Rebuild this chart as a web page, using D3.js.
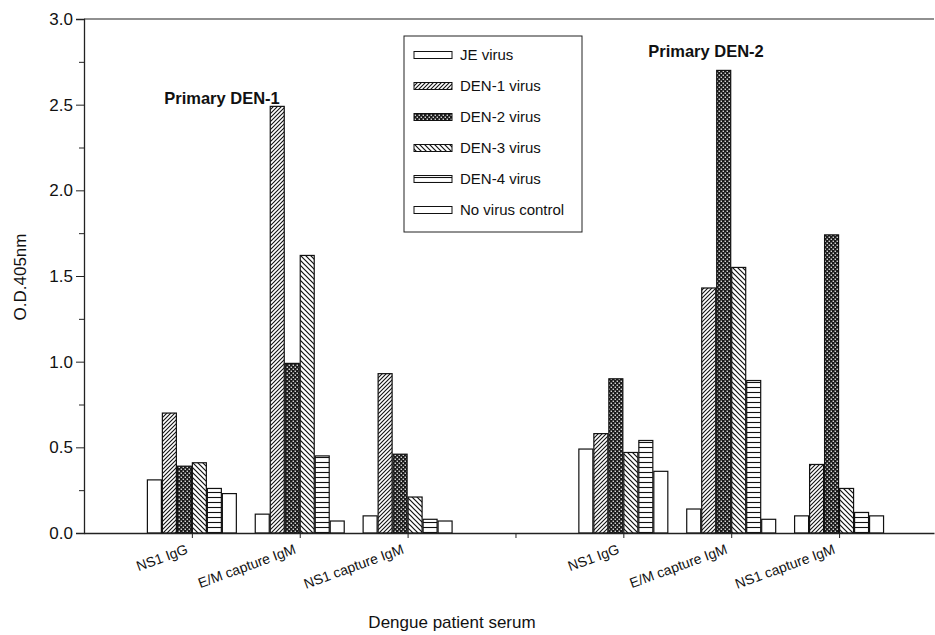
<!DOCTYPE html>
<html>
<head>
<meta charset="utf-8">
<script src="https://cdn.jsdelivr.net/npm/d3@7"></script>
<style>
  body { margin: 0; background: #fff; }
  text { font-family: "Liberation Sans", Arial, sans-serif; fill: #111; }
</style>
</head>
<body>
<svg id="chart" width="935" height="635"></svg>
<script>
// chart data
var panels = ["Primary DEN-1", "Primary DEN-2"];
var assays = ["NS1 IgG", "E/M capture IgM", "NS1 capture IgM"];
var viruses = ["JE virus", "DEN-1 virus", "DEN-2 virus", "DEN-3 virus", "DEN-4 virus", "No virus control"];

// values per virus, order: DEN-1 panel (3 assays), then DEN-2 panel (3 assays)
var jeVirus   = [0.31, 0.11, 0.10, 0.49, 0.14, 0.10];
var den1Virus = [0.70, 2.49, 0.93, 0.58, 1.43, 0.40];
var den2Virus = [0.39, 0.99, 0.46, 0.90, 2.70, 1.74];
var den3Virus = [0.41, 1.62, 0.21, 0.47, 1.55, 0.26];
var den4Virus = [0.26, 0.45, 0.08, 0.54, 0.89, 0.12];
var noVirus   = [0.23, 0.07, 0.07, 0.36, 0.08, 0.10];

var yTicks = [0, 0.5, 1.0, 1.5, 2.0, 2.5, 3.0];
var yMinorTicks = [0.25, 0.75, 1.25, 1.75, 2.25, 2.75];

var series = [jeVirus, den1Virus, den2Virus, den3Virus, den4Virus, noVirus];
var fills = ["#fff", "url(#p-den1)", "url(#p-den2)", "url(#p-den3)", "url(#p-den4)", "#fff"];

var svg = d3.select("#chart");

// hatch patterns
var defs = svg.append("defs");
var p1 = defs.append("pattern").attr("id", "p-den1").attr("patternUnits", "userSpaceOnUse")
  .attr("width", 4).attr("height", 4);
p1.append("rect").attr("width", 4).attr("height", 4).attr("fill", "#fff");
p1.append("path").attr("d", "M-1,1 l2,-2 M0,4 l4,-4 M3,5 l2,-2").attr("stroke", "#111").attr("stroke-width", 1.1);

var p2 = defs.append("pattern").attr("id", "p-den2").attr("patternUnits", "userSpaceOnUse")
  .attr("width", 4).attr("height", 4);
p2.append("rect").attr("width", 4).attr("height", 4).attr("fill", "#1a1a1a");
p2.append("rect").attr("x", 0.6).attr("y", 0.6).attr("width", 1.3).attr("height", 1.3).attr("fill", "#fff");
p2.append("rect").attr("x", 2.6).attr("y", 2.6).attr("width", 1.3).attr("height", 1.3).attr("fill", "#fff");

var p3 = defs.append("pattern").attr("id", "p-den3").attr("patternUnits", "userSpaceOnUse")
  .attr("width", 5).attr("height", 5);
p3.append("rect").attr("width", 5).attr("height", 5).attr("fill", "#fff");
p3.append("path").attr("d", "M-1,4 l2,2 M0,0 l5,5 M4,-1 l2,2").attr("stroke", "#111").attr("stroke-width", 1.2);

var p4 = defs.append("pattern").attr("id", "p-den4").attr("patternUnits", "userSpaceOnUse")
  .attr("width", 6).attr("height", 5);
p4.append("rect").attr("width", 6).attr("height", 5).attr("fill", "#fff");
p4.append("path").attr("d", "M0,2.5 H6").attr("stroke", "#111").attr("stroke-width", 1.1);

// scales
var x = d3.scaleLinear().domain([0, 7.88]).range([84, 934]);
var y = d3.scaleLinear().domain([0, 3]).range([533, 19]);
var unit = x(1) - x(0);
var barStep = unit * 0.139;
var barW = barStep - 1;

function slot(i) { return Math.floor(i / 3) * 4 + (i % 3) + 1; }

// frame top line
svg.append("line").attr("x1", 84).attr("x2", 934).attr("y1", y(3)).attr("y2", y(3))
  .attr("stroke", "#222").attr("stroke-width", 1.2);

// bars
series.forEach(function(vals, s) {
  svg.append("g").selectAll("rect").data(vals).enter().append("rect")
    .attr("x", function(d, i) { return x(slot(i)) + (s - 3) * barStep + 0.5; })
    .attr("y", function(d) { return y(d); })
    .attr("width", barW)
    .attr("height", function(d) { return y(0) - y(d); })
    .attr("fill", fills[s])
    .attr("stroke", "#111").attr("stroke-width", 1.2);
});

// y axis
var yAxis = svg.append("g").attr("transform", "translate(84,0)")
  .call(d3.axisLeft(y).tickValues(yTicks).tickFormat(d3.format(".1f")).tickSize(8).tickPadding(3));
svg.append("g").attr("transform", "translate(84,0)")
  .call(d3.axisLeft(y).tickValues(yMinorTicks).tickFormat("").tickSize(5))
  .select(".domain").remove();
yAxis.selectAll("text").style("font-size", "17px").attr("fill", "#111");

// x axis
var xAxis = svg.append("g").attr("transform", "translate(0,533)")
  .call(d3.axisBottom(x).tickValues([1, 2, 3, 4, 5, 6, 7]).tickFormat("").tickSize(5).tickSizeOuter(0));

svg.selectAll(".domain").attr("stroke", "#222").attr("stroke-width", 1.3);
svg.selectAll(".tick line").attr("stroke", "#222");

// x tick labels
var labels = [];
panels.forEach(function(p) { assays.forEach(function(a) { labels.push(a); }); });
svg.append("g").selectAll("text").data(labels).enter().append("text")
  .attr("transform", function(d, i) { return "translate(" + (x(slot(i)) - 3) + ",553) rotate(-20)"; })
  .attr("text-anchor", "end")
  .style("font-size", "14px")
  .text(function(d) { return d; });

// panel titles
svg.append("text").attr("x", 222).attr("y", 104).attr("text-anchor", "middle")
  .style("font-size", "16.5px").style("font-weight", "bold").text(panels[0]);
svg.append("text").attr("x", 706).attr("y", 57).attr("text-anchor", "middle")
  .style("font-size", "16.5px").style("font-weight", "bold").text(panels[1]);

// axis titles
svg.append("text").attr("x", 452).attr("y", 628).attr("text-anchor", "middle")
  .style("font-size", "17px").text("Dengue patient serum");
svg.append("text").attr("transform", "translate(26,277) rotate(-90)").attr("text-anchor", "middle")
  .style("font-size", "17px").text("O.D.405nm");

// legend
var lg = svg.append("g");
lg.append("rect").attr("x", 404).attr("y", 36).attr("width", 178).attr("height", 196)
  .attr("fill", "#fff").attr("stroke", "#222").attr("stroke-width", 1);
var ly = d3.scalePoint().domain(viruses).range([55, 210]);
viruses.forEach(function(v, s) {
  lg.append("rect").attr("x", 414).attr("y", ly(v) - 3.5).attr("width", 38).attr("height", 7)
    .attr("fill", fills[s]).attr("stroke", "#111").attr("stroke-width", 1);
  lg.append("text").attr("x", 460).attr("y", ly(v) + 5).style("font-size", "15px").text(v);
});
</script>
</body>
</html>
